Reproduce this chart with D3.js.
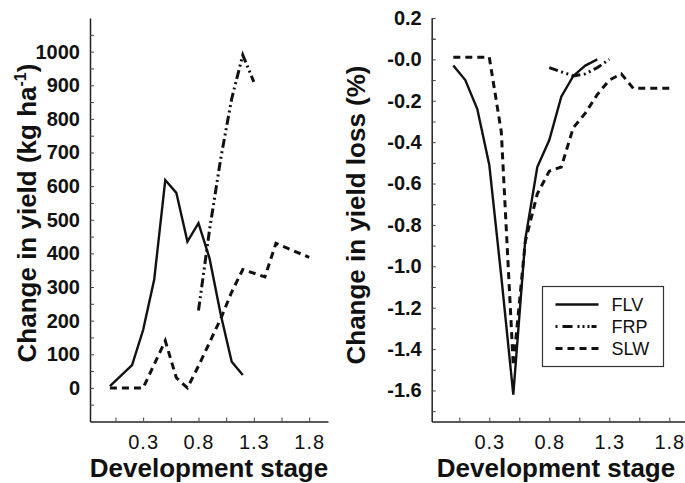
<!DOCTYPE html>
<html><head><meta charset="utf-8">
<script src="https://cdn.jsdelivr.net/npm/d3@7"></script>
<style>body{margin:0;background:#fff}svg{display:block}</style>
</head><body><svg id="c" width="685" height="483"></svg>
<script>
// ---- data (left panel: change in yield, kg/ha) ----
const stageFLV_L = [0, 0.2, 0.3, 0.4, 0.5, 0.6, 0.7, 0.8, 0.9, 1.0, 1.1, 1.2];
const yieldFLV   = [5, 68, 172, 322, 618, 580, 435, 490, 385, 220, 78, 38];
const stageFRP_L = [0.8, 0.9, 1.0, 1.1, 1.2, 1.3];
const yieldFRP   = [230, 470, 680, 860, 990, 910];
const stageSLW_L = [0, 0.1, 0.2, 0.3, 0.4, 0.5, 0.6, 0.7, 0.8, 0.9, 1.0, 1.1, 1.2, 1.4, 1.5, 1.8];
const yieldSLW   = [0, 0, 0, 0, 70, 140, 30, 0, 65, 135, 205, 285, 352, 330, 430, 388];
// ---- data (right panel: change in yield loss, %) ----
const stageFLV_R = [0, 0.1, 0.2, 0.3, 0.4, 0.5, 0.6, 0.7, 0.8, 0.9, 1.0, 1.1, 1.2];
const lossFLV    = [-0.03, -0.10, -0.24, -0.51, -1.05, -1.62, -0.87, -0.52, -0.39, -0.18, -0.08, -0.03, 0.0];
const stageFRP_R = [0.8, 0.9, 1.0, 1.1, 1.2, 1.3];
const lossFRP    = [-0.04, -0.06, -0.08, -0.07, -0.04, 0.0];
const stageSLW_R = [0, 0.1, 0.2, 0.3, 0.4, 0.5, 0.6, 0.7, 0.8, 0.9, 1.0, 1.1, 1.2, 1.3, 1.4, 1.5, 1.6, 1.7, 1.8];
const lossSLW    = [0.01, 0.01, 0.01, 0.01, -0.35, -1.48, -0.88, -0.65, -0.54, -0.52, -0.33, -0.26, -0.17, -0.10, -0.07, -0.14, -0.14, -0.14, -0.14];
// ---- ticks / labels ----
const xTicks = [0.3, 0.8, 1.3, 1.8];
const xMinor = [0.05, 0.55, 1.05, 1.55];
const yTicksL = [0, 100, 200, 300, 400, 500, 600, 700, 800, 900, 1000];
const yTicksR = [0.2, 0, -0.2, -0.4, -0.6, -0.8, -1.0, -1.2, -1.4, -1.6];
const seriesNames = ["FLV", "FRP", "SLW"];

const dashes = {FLV: null, FRP: "9,3.5,2,3.5,2,3.5", SLW: "7,5"};
const svg = d3.select("#c");
const FONT = "'Liberation Sans', Arial, Helvetica, sans-serif";

function panel(opts) {
  const g = svg.append("g");
  const x = d3.scaleLinear().domain([-0.18, 1.97]).range(opts.xr);
  const y = d3.scaleLinear().domain(opts.yd).range([421.5, 18]);

  // y axis
  const ya = g.append("g").attr("transform", `translate(${opts.xr[0]},0)`)
    .call(d3.axisLeft(y).tickValues(opts.yt).tickSizeInner(-4).tickSizeOuter(0).tickPadding(10)
      .tickFormat(opts.yfmt));
  ya.selectAll("text").attr("font-family", FONT).attr("font-size", 20).attr("font-weight", "bold").attr("fill", "#111");
  ya.select(".domain").attr("stroke", "#222").attr("stroke-width", 1.5);
  ya.selectAll(".tick line").attr("stroke", "#444").attr("stroke-width", 1);
  g.append("g").attr("transform", `translate(${opts.xr[0]},0)`)
    .call(d3.axisLeft(y).tickValues(opts.ym).tickSizeInner(-4).tickSizeOuter(0).tickFormat(""))
    .call(s => { s.select(".domain").remove(); s.selectAll("line").attr("stroke", "#444"); });

  // x axis
  const xa = g.append("g").attr("transform", `translate(0,${y.range()[0]})`)
    .call(d3.axisBottom(x).tickValues(xTicks).tickSizeInner(-4).tickSizeOuter(0).tickPadding(13)
      .tickFormat(d3.format(".1f")));
  xa.selectAll("text").attr("font-family", FONT).attr("font-size", 20).attr("fill", "#111").attr("letter-spacing", 1);
  xa.select(".domain").attr("stroke", "#222").attr("stroke-width", 1.5);
  xa.selectAll(".tick line").attr("stroke", "#444");
  g.append("g").attr("transform", `translate(0,${y.range()[0]})`)
    .call(d3.axisBottom(x).tickValues(xMinor).tickSizeInner(-4).tickSizeOuter(0).tickFormat(""))
    .call(s => { s.select(".domain").remove(); s.selectAll("line").attr("stroke", "#444"); });

  // titles
  g.append("text").attr("x", opts.xtx).attr("y", 477).attr("text-anchor", "middle")
    .attr("font-family", FONT).attr("font-size", 26).attr("font-weight", "bold").attr("fill", "#111")
    .text("Development stage");
  const yt = g.append("text").attr("transform", `translate(${opts.ytx},${opts.yty}) rotate(-90)`)
    .attr("text-anchor", "middle").attr("font-family", FONT).attr("font-size", 26)
    .attr("font-weight", "bold").attr("fill", "#111");
  opts.ytitle(yt);

  const line = d3.line().x(d => x(d[0])).y(d => y(d[1]));
  opts.series.forEach(s => {
    g.append("path").datum(d3.zip(s.xs, s.ys)).attr("d", line)
      .attr("fill", "none").attr("stroke", "#111")
      .attr("stroke-width", s.name === "FLV" ? 2.4 : 3)
      .attr("stroke-dasharray", dashes[s.name]);
  });
  return {g, x, y};
}

panel({
  xr: [90, 328], yd: [-100, 1100], yt: yTicksL,
  ym: d3.range(-50, 1100, 100),
  yfmt: d3.format("d"), xtx: 209, ytx: 36, yty: 213,
  ytitle: t => {
    t.append("tspan").text("Change in yield (kg ha");
    t.append("tspan").attr("font-size", 16).attr("dy", -10).text("-1");
    t.append("tspan").attr("dy", 10).text(")");
  },
  series: [
    {name: "FLV", xs: stageFLV_L, ys: yieldFLV},
    {name: "FRP", xs: stageFRP_L, ys: yieldFRP},
    {name: "SLW", xs: stageSLW_L, ys: yieldSLW}
  ]
});

panel({
  xr: [431.7, 689.7], yd: [-1.75, 0.2], yt: yTicksR,
  ym: d3.range(-1.7, 0.2, 0.2).concat([0.1]),
  yfmt: d => (d <= 0 ? "-" + d3.format(".1f")(Math.abs(d)) : d3.format(".1f")(d)),
  xtx: 556, ytx: 365, yty: 215,
  ytitle: t => t.text("Change in yield loss (%)"),
  series: [
    {name: "FLV", xs: stageFLV_R, ys: lossFLV},
    {name: "FRP", xs: stageFRP_R, ys: lossFRP},
    {name: "SLW", xs: stageSLW_R, ys: lossSLW}
  ]
});

// legend
const lg = svg.append("g").attr("transform", "translate(542.5,286.5)");
lg.append("rect").attr("width", 121).attr("height", 80).attr("fill", "#fff")
  .attr("stroke", "#333").attr("stroke-width", 1.2);
seriesNames.forEach((n, i) => {
  const yy = 18 + i * 22;
  lg.append("line").attr("x1", 13).attr("x2", 56).attr("y1", yy).attr("y2", yy)
    .attr("stroke", "#111").attr("stroke-width", n === "FLV" ? 2.6 : 3)
    .attr("stroke-dasharray", n === "FRP" ? "2,5,10,5,2,3,2,3,2" : dashes[n]);
  lg.append("text").attr("x", 69).attr("y", yy).attr("dy", "0.35em")
    .attr("font-family", FONT).attr("font-size", 18).attr("fill", "#111").text(n);
});
</script></body></html>
